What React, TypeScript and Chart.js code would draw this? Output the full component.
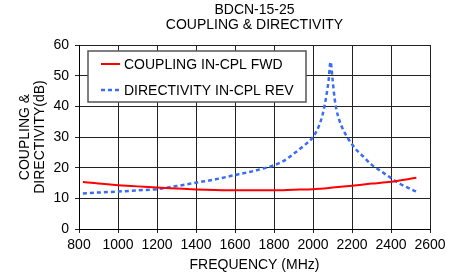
import React, { useEffect, useRef } from "react";
import { Chart, registerables } from "chart.js";

Chart.register(...registerables);

const titleLines = ["BDCN-15-25", "COUPLING & DIRECTIVITY"];
const xTitle = "FREQUENCY (MHz)";
const yTitle = ["COUPLING &", "DIRECTIVITY(dB)"];

const couplingLabel = "COUPLING IN-CPL FWD";
const couplingFreq = [820, 900, 1000, 1100, 1200, 1300, 1400, 1500, 1600, 1700, 1800, 1900, 2000, 2100, 2200, 2300, 2400, 2530];
const couplingDb = [15.3, 14.8, 14.3, 13.9, 13.5, 13.2, 12.9, 12.7, 12.6, 12.6, 12.6, 12.8, 13.0, 13.5, 14.1, 14.8, 15.4, 16.7];

const directivityLabel = "DIRECTIVITY IN-CPL REV";
const directivityFreq = [820, 900, 1000, 1100, 1200, 1300, 1400, 1500, 1600, 1700, 1800, 1850, 1900, 1950, 2000, 2030, 2050, 2070, 2080, 2090, 2100, 2110, 2120, 2135, 2150, 2180, 2220, 2260, 2300, 2350, 2400, 2450, 2530];
const directivityDb = [11.6, 11.9, 12.2, 12.6, 13.0, 14.0, 15.1, 16.2, 17.6, 19.0, 20.8, 22.2, 24.5, 27.0, 30.0, 33.5, 37.5, 44.0, 48.5, 54.5, 49.0, 43.0, 39.0, 35.5, 33.0, 29.5, 26.0, 23.5, 21.0, 18.8, 16.6, 14.6, 12.2];

const xMin = 800, xMax = 2600, xStep = 200;
const yMin = 0, yMax = 60, yStep = 10;

const FONT = "'Liberation Sans', Arial, sans-serif";
const FS = 14;

const legendPlugin = {
  id: "insideLegend",
  afterDraw(chart: any) {
    const { ctx, chartArea } = chart;
    const x = chartArea.left + 9;
    const y = chartArea.top + 6;
    const w = 218;
    const h = 51;
    ctx.save();
    ctx.fillStyle = "#fff";
    ctx.fillRect(x, y, w, h);
    ctx.strokeStyle = "#555";
    ctx.lineWidth = 1.5;
    ctx.strokeRect(x, y, w, h);
    ctx.font = `${FS}px ${FONT}`;
    ctx.textBaseline = "middle";
    ctx.fillStyle = "#000";
    chart.data.datasets.forEach((ds: any, i: number) => {
      const cy = y + 13 + i * 26;
      ctx.beginPath();
      ctx.strokeStyle = ds.borderColor;
      ctx.lineWidth = ds.borderWidth;
      ctx.setLineDash(ds.borderDash || []);
      ctx.moveTo(x + 13, cy);
      ctx.lineTo(x + 32, cy);
      ctx.stroke();
      ctx.setLineDash([]);
      ctx.fillText(ds.label, x + 36, cy + 1);
    });
    ctx.restore();
  },
};

export default function App() {
  const ref = useRef<HTMLCanvasElement>(null);
  useEffect(() => {
    if (!ref.current) return;
    Chart.defaults.color = "#000";
    const chart = new Chart(ref.current, {
      type: "line",
      data: {
        datasets: [
          {
            label: couplingLabel,
            data: couplingFreq.map((f, i) => ({ x: f, y: couplingDb[i] })),
            borderColor: "#ff0000",
            borderWidth: 2,
            pointRadius: 0,
            cubicInterpolationMode: "monotone",
            fill: false,
          },
          {
            label: directivityLabel,
            data: directivityFreq.map((f, i) => ({ x: f, y: directivityDb[i] })),
            borderColor: "#3b6cf5",
            borderWidth: 2.5,
            borderDash: [4, 3],
            pointRadius: 0,
            cubicInterpolationMode: "monotone",
            fill: false,
          },
        ],
      },
      options: {
        animation: false,
        responsive: false,
        layout: { padding: { top: 0, right: 30, left: 0, bottom: 0 } },
        plugins: {
          legend: { display: false },
          tooltip: { enabled: false },
          title: {
            display: true,
            text: titleLines,
            fullSize: false,
            color: "#000",
            font: { family: FONT, size: FS, weight: "normal", lineHeight: 1.1 },
            padding: { top: 2.3, bottom: 11.9 },
          },
        },
        scales: {
          x: {
            type: "linear",
            min: xMin,
            max: xMax,
            afterFit: (s: any) => { s.height = 45; },
            ticks: { stepSize: xStep, padding: 4, font: { family: FONT, size: FS }, color: "#000", maxRotation: 0, callback: (v: any) => String(v) },
            grid: { color: "#222", lineWidth: 1, tickLength: 4 },
            border: { color: "#000", width: 1 },
            title: { display: true, text: xTitle, font: { family: FONT, size: FS, lineHeight: 1.2 }, color: "#000", padding: { top: 0, bottom: 0 } },
          },
          y: {
            min: yMin,
            max: yMax,
            afterFit: (s: any) => { s.width = 79; },
            ticks: { stepSize: yStep, padding: 6, font: { family: FONT, size: FS }, color: "#000", callback: (v: any) => String(v) },
            grid: { color: "#222", lineWidth: 1, tickLength: 4 },
            border: { color: "#000", width: 1 },
            title: { display: true, text: yTitle, font: { family: FONT, size: FS, lineHeight: 1.1 }, color: "#000", padding: { top: 17.3, bottom: 0 } },
          },
        },
      },
      plugins: [legendPlugin],
    } as any);
    return () => chart.destroy();
  }, []);
  return (
    <div style={{ position: "fixed", left: 0, top: 0, width: 460, height: 274, background: "#fff" }}>
      <canvas ref={ref} width={460} height={274} style={{ display: "block" }} />
    </div>
  );
}
